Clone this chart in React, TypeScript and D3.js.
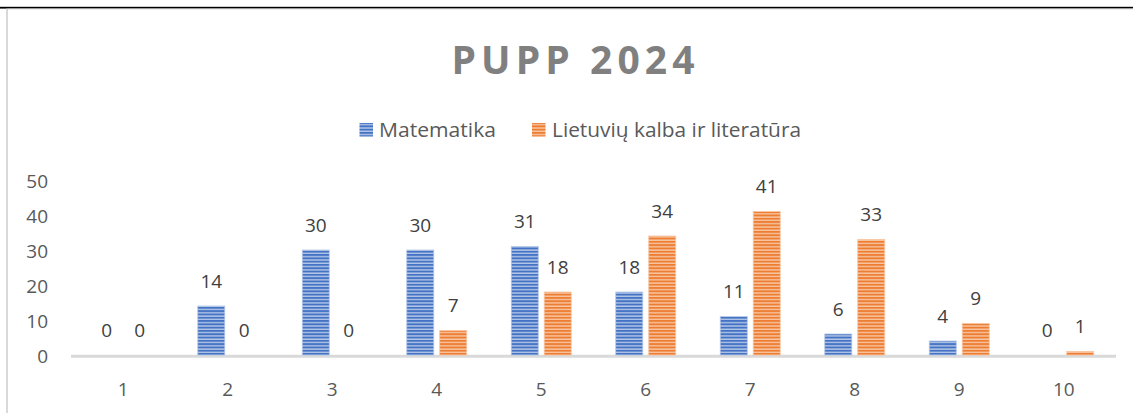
import React from "react";
import * as d3 from "d3";

const categories = ["1", "2", "3", "4", "5", "6", "7", "8", "9", "10"];
const seriesNames = ["Matematika", "Lietuvių kalba ir literatūra"];
const matematika = [0, 14, 30, 30, 31, 18, 11, 6, 4, 0];
const lietuviu = [0, 0, 0, 7, 18, 34, 41, 33, 9, 1];
const yTicks = [0, 10, 20, 30, 40, 50];
const title = "PUPP 2024";

const W = 1133;
const H = 413;
const FONT = "'Open Sans', 'Noto Sans', sans-serif";
const colors = ["#4472C4", "#ED7D31"];
const lightColors = ["#B4C7E7", "#F8C6A4"];

export default function App() {
  const x = d3.scaleBand<string>().domain(categories).range([71, 1116]).padding(0);
  const sub = d3
    .scaleBand<number>()
    .domain([0, 1])
    .range([22.25, 82.25])
    .paddingInner(0.18);
  const y = d3.scaleLinear().domain([0, 50]).range([355, 180]);
  const series = [matematika, lietuviu];

  return (
    <svg
      width={W}
      height={H}
      style={{ position: "absolute", left: 0, top: 0, background: "#fff" }}
    >
      <defs>
        {colors.map((c, i) => (
          <pattern
            key={i}
            id={`stripe${i}`}
            patternUnits="userSpaceOnUse"
            width={4}
            height={3.3}
          >
            <rect width={4} height={3.3} fill={lightColors[i]} />
            <rect width={4} height={1.9} fill={c} />
          </pattern>
        ))}
      </defs>
      <rect x={0} y={0} width={W} height={H} fill="#fff" />
      {/* frame */}
      <rect x={0} y={6.8} width={W} height={1.8} fill="#000" />
      <rect x={6} y={8.6} width={2} height={H} fill="#d9d9d9" />
      <rect x={8} y={8.6} width={W} height={1.4} fill="#eeeeee" />

      {/* title */}
      <text
        x={573}
        y={73.5}
        textAnchor="middle"
        fontFamily={FONT}
        fontWeight={700}
        fontSize={39}
        fill="#808080"
        textLength={243}
        lengthAdjust="spacing"
      >
        {title}
      </text>

      {/* legend */}
      <g fontFamily={FONT} fontSize={20.5} fill="#595959">
        <rect x={359.5} y={123} width={13.5} height={13.5} fill="url(#stripe0)" />
        <text x={379} y={136.5} textLength={117} lengthAdjust="spacingAndGlyphs">
          {seriesNames[0]}
        </text>
        <rect x={532} y={123} width={13.5} height={13.5} fill="url(#stripe1)" />
        <text x={552} y={136.5} textLength={249} lengthAdjust="spacingAndGlyphs">
          {seriesNames[1]}
        </text>
      </g>

      {/* y axis labels */}
      <g fontFamily={FONT} fontSize={19} fill="#595959" textAnchor="end">
        {yTicks.map((t) => (
          <text key={t} x={48} y={y(t) + 1.5} dy="0.36em">
            {t}
          </text>
        ))}
      </g>

      {/* baseline */}
      <line x1={71} x2={1116} y1={356.3} y2={356.3} stroke="#d9d9d9" strokeWidth={3} />

      {/* bars */}
      {categories.map((cat, ci) =>
        series.map((vals, si) => {
          const v = vals[ci];
          const bx = (x(cat) as number) + (sub(si) as number);
          const bw = sub.bandwidth();
          const top = y(v);
          return (
            <g key={`${ci}-${si}`}>
              {v > 0 && (
                <rect
                  x={bx}
                  y={top}
                  width={bw}
                  height={y(0) - top}
                  fill={`url(#stripe${si})`}
                  stroke={lightColors[si]}
                  strokeWidth={0.8}
                />
              )}
              <text
                x={bx + bw / 2}
                y={top - 25}
                dy="0.36em"
                textAnchor="middle"
                fontFamily={FONT}
                fontSize={19}
                fill="#404040"
              >
                {v}
              </text>
            </g>
          );
        })
      )}

      {/* x axis labels */}
      <g fontFamily={FONT} fontSize={19} fill="#595959" textAnchor="middle">
        {categories.map((c) => (
          <text key={c} x={(x(c) as number) + x.bandwidth() / 2} y={389} dy="0.36em">
            {c}
          </text>
        ))}
      </g>
    </svg>
  );
}
